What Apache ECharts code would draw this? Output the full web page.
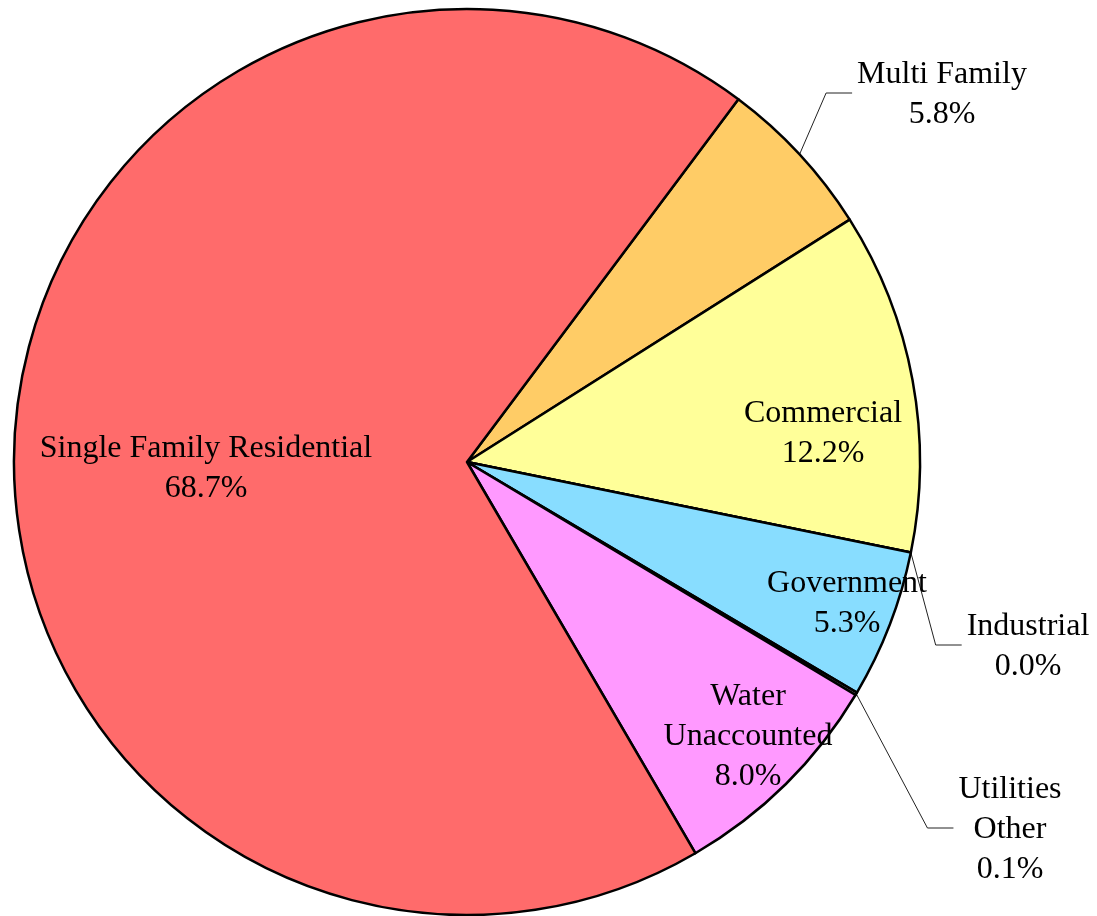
<!DOCTYPE html>
<html><head><meta charset="utf-8">
<script src="https://cdn.jsdelivr.net/npm/echarts@6/dist/echarts.min.js"></script>
<style>html,body{margin:0;padding:0;background:#fff}#c{width:1097px;height:916px}</style>
</head><body><div id="c"></div>
<script>
// ---- data ----
const categories = ['Multi Family', 'Commercial', 'Industrial', 'Government', 'Utilities\nOther', 'Water\nUnaccounted', 'Single Family Residential'];
const shares = [5.8, 12.2, 0.0, 5.3, 0.1, 8.0, 68.7];

// ---- styling ----
const colors = ['#FFCC66', '#FFFF99', '#99CCFF', '#88DDFF', '#CCCCCC', '#FF99FF', '#FF6B6B'];
const outsideLabel = [true, false, true, false, true, false, false];
// label block centres (px)
const labelPos = [[942, 95], [823, 434], [1028, 647], [847, 604], [1010, 830], [748, 737], [206, 469]];

const chart = echarts.init(document.getElementById('c'), null, {renderer: 'canvas'});
const data = categories.map((name, i) => ({
  name: name,
  value: shares[i],
  itemStyle: {color: colors[i]},
  label: {position: outsideLabel[i] ? 'outside' : 'inside'},
  labelLine: {show: outsideLabel[i]}
}));

chart.setOption({
  animation: false,
  backgroundColor: '#fff',
  series: [{
    type: 'pie',
    center: [467, 462],
    radius: [0, 453],
    startAngle: 53.2,
    clockwise: true,
    avoidLabelOverlap: false,
    silent: true,
    itemStyle: {borderColor: '#000', borderWidth: 2.5},
    label: {
      show: true,
      color: '#000',
      fontFamily: 'Liberation Serif',
      fontSize: 32,
      lineHeight: 40,
      formatter: p => p.name + '\n' + p.value.toFixed(1) + '%'
    },
    labelLine: {lineStyle: {color: '#222', width: 1}},
    labelLayout: function (p) {
      const i = p.dataIndex;
      const pos = labelPos[i];
      const res = {x: pos[0], y: pos[1], align: 'center', verticalAlign: 'middle'};
      if (outsideLabel[i] && p.labelLinePoints) {
        const start = p.labelLinePoints[0];
        const endX = pos[0] - p.labelRect.width / 2 - 5;
        const lineY = pos[1] - 2;
        res.labelLinePoints = [start, [endX - 26, lineY], [endX, lineY]];
      }
      return res;
    },
    data: data
  }]
});
</script></body></html>
